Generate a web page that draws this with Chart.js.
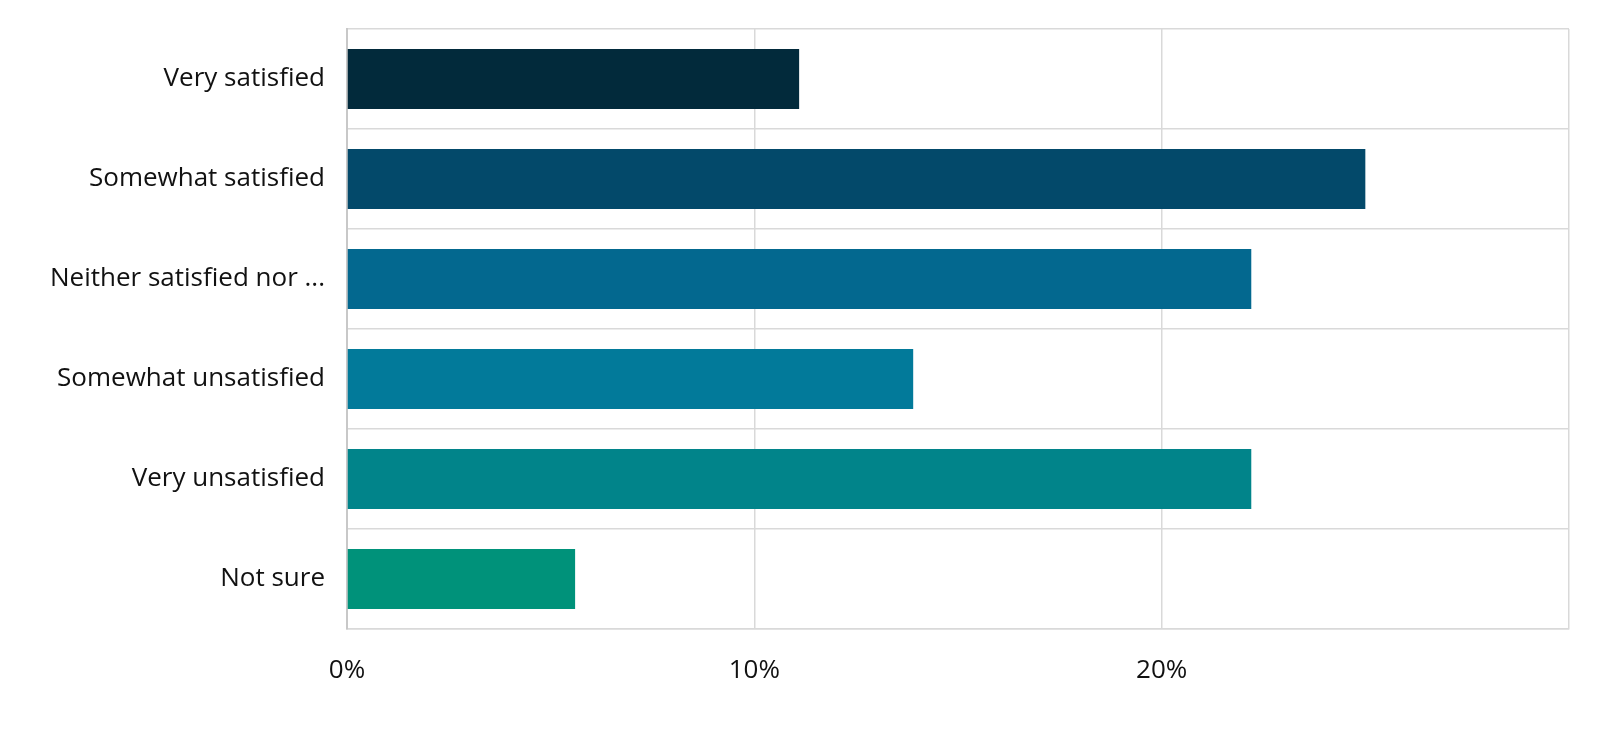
<!DOCTYPE html>
<html lang="en">
<head>
    <meta charset="UTF-8">
    <title>Satisfaction</title>
    <script src="https://cdn.jsdelivr.net/npm/chart.js@4.4.2/dist/chart.umd.min.js"></script>
    <style>
        html, body { margin: 0; padding: 0; background: #ffffff; }
        #wrap { width: 1600px; height: 738px; position: relative; }
    </style>
</head>
<body>
    <div id="wrap"><canvas id="satChart"></canvas></div>

    <script>
    // --- Data ---
    const categories = ['Very satisfied', 'Somewhat satisfied', 'Neither satisfied nor ...',
                        'Somewhat unsatisfied', 'Very unsatisfied', 'Not sure'];
    const shares = [11.1, 25.0, 22.2, 13.9, 22.2, 5.6];
    const barColors = ['#022a3b', '#03496a', '#03688f', '#027a9a', '#01848a', '#00927a'];
    const xTicks = [0, 10, 20, 30];
    const xTickLabels = ['0%', '10%', '20%', ''];

    const gridColor = '#d9d9d9';

    new Chart(document.getElementById('satChart'), {
        type: 'bar',
        data: {
            labels: categories,
            datasets: [{
                data: shares,
                backgroundColor: barColors,
                borderWidth: 0,
                barPercentage: 0.6,
                categoryPercentage: 1.0
            }]
        },
        options: {
            indexAxis: 'y',
            responsive: true,
            maintainAspectRatio: false,
            animation: false,
            layout: { padding: { top: 29, right: 31, left: 0, bottom: 0 } },
            plugins: { legend: { display: false }, tooltip: { enabled: false } },
            scales: {
                x: {
                    min: 0,
                    max: 30,
                    afterBuildTicks: s => { s.ticks = xTicks.map(v => ({ value: v })); },
                    afterFit: s => { s.height = 109; s.paddingLeft = 0; s.paddingRight = 0; },
                    grid: { color: gridColor, lineWidth: 1.5, drawTicks: false },
                    border: { color: gridColor, width: 1.5 },
                    ticks: {
                        padding: 26,
                        color: '#111111',
                        font: { family: 'Open Sans', size: 26 },
                        callback: (v, i) => xTickLabels[i]
                    }
                },
                y: {
                    afterFit: s => { s.width = 347; s.paddingTop = 0; s.paddingBottom = 0; },
                    grid: { color: gridColor, lineWidth: 1.5, drawTicks: false, offset: true },
                    border: { color: '#c8c8c8', width: 2 },
                    ticks: {
                        padding: 22,
                        color: '#111111',
                        font: { family: 'Open Sans', size: 26 }
                    }
                }
            }
        }
    });
    </script>
</body>
</html>
